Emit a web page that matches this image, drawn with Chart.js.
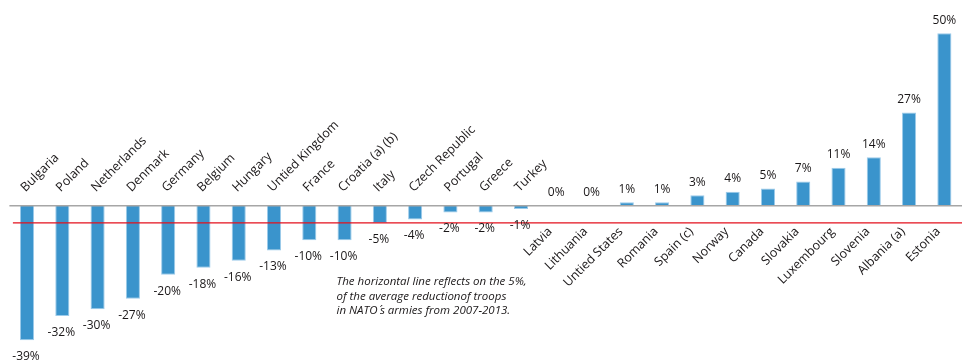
<!DOCTYPE html>
<html>
<head>
<meta charset="utf-8">
<script src="https://cdn.jsdelivr.net/npm/chart.js@4.4.1/dist/chart.umd.min.js"></script>
<style>
  html, body { margin: 0; padding: 0; background: #ffffff; }
  #wrap { width: 962px; height: 363px; position: relative; }
</style>
</head>
<body>
<div id="wrap"><canvas id="chart"></canvas></div>
<script>
// Change in troop numbers by country, 2007-2013 (%)
const countries = [
  'Bulgaria', 'Poland', 'Netherlands', 'Denmark', 'Germany', 'Belgium', 'Hungary',
  'Untied Kingdom', 'France', 'Croatia (a) (b)', 'Italy', 'Czech Republic', 'Portugal',
  'Greece', 'Turkey', 'Latvia', 'Lithuania', 'Untied States', 'Romania', 'Spain (c)',
  'Norway', 'Canada', 'Slovakia', 'Luxembourg', 'Slovenia', 'Albania (a)', 'Estonia'
];
const changePct = [
  -39, -32, -30, -27, -20, -18, -16, -13, -10, -10, -5, -4, -2, -2, -1,
  0, 0, 1, 1, 3, 4, 5, 7, 11, 14, 27, 50
];
// Average reduction of troops across NATO armies (reference line)
const natoAverage = -5;
const noteLines = [
  'The horizontal line reflects on the 5%,',
  'of the average reductionof troops',
  'in NATO\u200a\u00b4\u200as armies from 2007-2013.'
];

const FONT = '"Open Sans", "DejaVu Sans", sans-serif';

const overlay = {
  id: 'overlay',
  afterDatasetsDraw(chart) {
    const { ctx, chartArea } = chart;
    const x = chart.scales.x, y = chart.scales.y;
    const zeroY = y.getPixelForValue(0);
    const avgY = y.getPixelForValue(natoAverage);
    ctx.save();

    // zero line
    ctx.strokeStyle = '#a6a6a6';
    ctx.lineWidth = 1.5;
    ctx.beginPath();
    ctx.moveTo(chartArea.left, zeroY);
    ctx.lineTo(chartArea.right, zeroY);
    ctx.stroke();

    // NATO average line
    ctx.strokeStyle = '#e3101c';
    ctx.lineWidth = 1.3;
    ctx.beginPath();
    ctx.moveTo(chartArea.left + 3.5, avgY);
    ctx.lineTo(chartArea.right, avgY);
    ctx.stroke();

    // value labels and country names
    ctx.fillStyle = '#1a1718';
    changePct.forEach((v, i) => {
      const cx = x.getPixelForValue(i);
      const vy = y.getPixelForValue(v);
      ctx.font = '12px ' + FONT;
      ctx.textAlign = 'center';
      ctx.textBaseline = 'middle';
      if (v < 0) {
        ctx.fillText(v + '%', cx - 1, vy + 16.5);
      } else {
        ctx.fillText(v + '%', cx, vy - 13);
      }
      ctx.font = '12.5px ' + FONT;
      ctx.save();
      if (v < 0) {
        ctx.translate(cx - 4, zeroY - 16);
        ctx.rotate(-Math.PI / 4);
        ctx.textAlign = 'left';
      } else {
        ctx.translate(cx - 6, zeroY + 24);
        ctx.rotate(-Math.PI / 4);
        ctx.textAlign = 'right';
      }
      ctx.textBaseline = 'middle';
      ctx.fillText(countries[i], 0, 0);
      ctx.restore();
    });

    // note under the chart
    ctx.font = 'italic 11.5px ' + FONT;
    ctx.textAlign = 'left';
    ctx.textBaseline = 'alphabetic';
    noteLines.forEach((t, k) => {
      ctx.fillText(t, 336.5, 285 + k * 14.6);
    });
    ctx.restore();
  }
};

new Chart(document.getElementById('chart'), {
  type: 'bar',
  data: {
    labels: countries,
    datasets: [{
      data: changePct,
      backgroundColor: '#3a94cc',
      borderColor: '#9ccbea',
      borderWidth: 1,
      barPercentage: 0.4,
      categoryPercentage: 1.0
    }]
  },
  options: {
    responsive: true,
    maintainAspectRatio: false,
    animation: false,
    layout: { padding: { left: 9.4, right: 0, top: 0, bottom: 0 } },
    plugins: { legend: { display: false }, tooltip: { enabled: false } },
    scales: {
      x: { display: false, offset: true, grid: { display: false } },
      y: { display: false, min: -45.6, max: 59.6, grid: { display: false } }
    }
  },
  plugins: [overlay]
});
</script>
</body>
</html>
